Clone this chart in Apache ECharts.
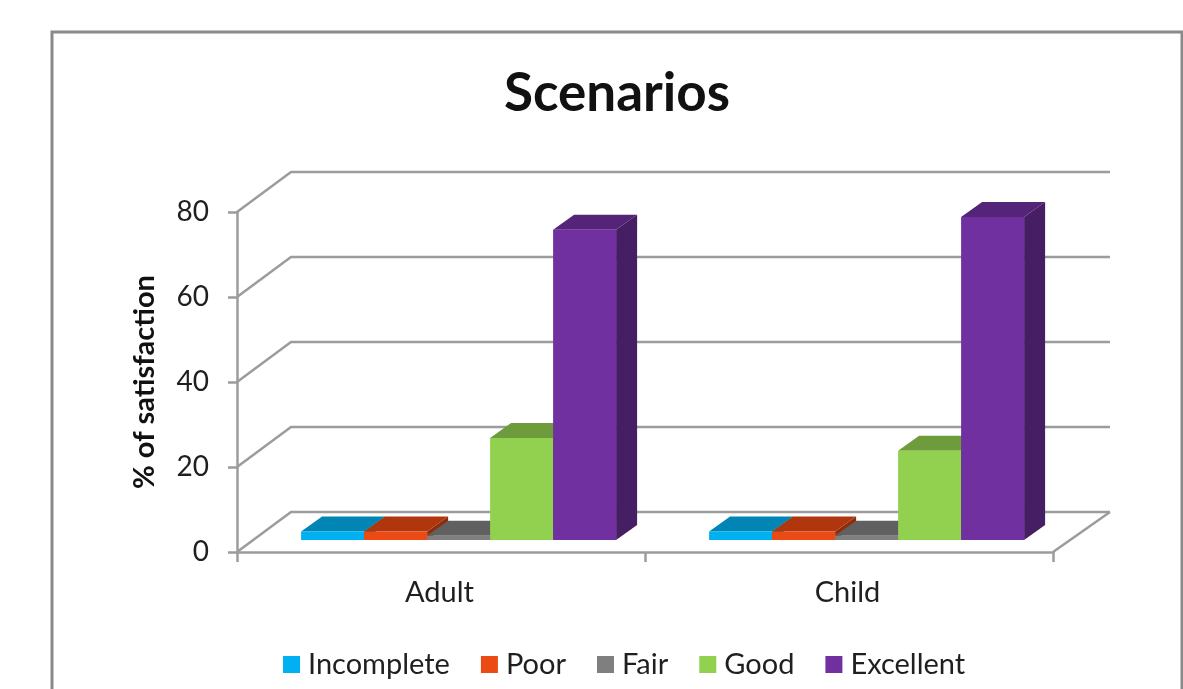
<!DOCTYPE html>
<html>
<head>
<meta charset="utf-8">
<title>Scenarios</title>
<style>
  html, body { margin: 0; padding: 0; background: #fff; overflow: hidden; }
  #chart { width: 1183px; height: 689px; }
</style>
</head>
<body>
<div id="chart"></div>
<script src="https://cdn.jsdelivr.net/npm/echarts@6/dist/echarts.min.js"></script>
<script>
const categories = ['Adult', 'Child']
const yTicks = [0, 20, 40, 60, 80]

const incomplete = [2, 2]
const poor = [2, 2]
const fair = [1, 1]
const good = [24, 21]
const excellent = [73, 76]

const gridColor = '#9c9c9c'
const textColor = '#1f1f1f'
const font = 'Lato, "Open Sans", sans-serif'

// depth of the fake 3D box, in pixels
const wallDx = 54
const wallDy = 40
const wallRight = 57
const barDx = 21
const barDy = 15
const barShiftX = 17.6
const barShiftY = 12
const barWidth = 63

const renderWall = (params, api) => {
  const box = params.coordSys
  const y = api.coord([0, api.value(1)])[1]
  const style = { stroke: gridColor, lineWidth: 2.5, fill: null }
  const children = [{
    type: 'polyline',
    shape: { points: [[box.x, y], [box.x + wallDx, y - wallDy], [box.x + box.width + wallRight, y - wallDy]] },
    style
  }]
  // floor edge on the right
  if (api.value(1) === 0) {
    children.push({
      type: 'line',
      shape: { x1: box.x + box.width, y1: y, x2: box.x + box.width + wallRight, y2: y - wallDy },
      style
    })
  }
  return { type: 'group', children }
}

const makeBar = (index, front, top, side) => (params, api) => {
  const base = api.coord([api.value(0), 0])
  const head = api.coord([api.value(0), api.value(1)])
  const x0 = base[0] + barShiftX + (index - 2.5) * barWidth
  const x1 = x0 + barWidth
  const y0 = base[1] - barShiftY
  const y1 = head[1] - barShiftY
  return {
    type: 'group',
    children: [
      {
        type: 'polygon',
        shape: { points: [[x1, y1], [x1 + barDx, y1 - barDy], [x1 + barDx, y0 - barDy], [x1, y0]] },
        style: { fill: side }
      },
      {
        type: 'polygon',
        shape: { points: [[x0, y1], [x0 + barDx, y1 - barDy], [x1 + barDx, y1 - barDy], [x1, y1]] },
        style: { fill: top }
      },
      {
        type: 'rect',
        shape: { x: x0, y: y1, width: barWidth, height: y0 - y1 },
        style: { fill: front }
      }
    ]
  }
}

const barSeries = (name, values, index, front, top, side) => ({
  name,
  type: 'custom',
  coordinateSystem: 'cartesian2d',
  renderItem: makeBar(index, front, top, side),
  itemStyle: { color: front },
  encode: { x: 0, y: 1 },
  data: values.map((v, i) => [i, v]),
  z: 3
})

const chart = echarts.init(document.getElementById('chart'))

chart.setOption({
  backgroundColor: '#fff',
  animation: false,
  textStyle: { fontFamily: font },
  title: {
    text: 'Scenarios',
    left: 612,
    top: 62,
    textAlign: 'center',
    textStyle: { fontFamily: font, fontSize: 53, fontWeight: 'bold', color: '#111' }
  },
  graphic: [{
    type: 'rect',
    silent: true,
    z: -1,
    shape: { x: 52, y: 32, width: 1130, height: 720 },
    style: { fill: null, stroke: '#8a8a8a', lineWidth: 3 }
  }],
  legend: {
    data: ['Incomplete', 'Poor', 'Fair', 'Good', 'Excellent'],
    left: 278,
    top: 645,
    icon: 'rect',
    itemWidth: 17,
    itemHeight: 17,
    itemGap: 31,
    textStyle: { fontFamily: font, fontSize: 29, color: textColor, padding: [0, 0, 0, 3] }
  },
  grid: { left: 237, right: 130, top: 212, bottom: 137 },
  xAxis: {
    type: 'category',
    data: categories,
    axisLine: { lineStyle: { color: gridColor, width: 2.5 } },
    axisTick: { show: true, alignWithLabel: false, length: 10, lineStyle: { color: gridColor, width: 2.5 } },
    axisLabel: { color: textColor, fontSize: 29, margin: 26, padding: [0, 3, 0, 0] },
    splitLine: { show: false }
  },
  yAxis: {
    type: 'value',
    min: 0,
    max: 80,
    interval: 20,
    name: '% of satisfaction',
    nameLocation: 'middle',
    nameRotate: 90,
    nameGap: 78,
    nameTextStyle: { color: '#111', fontSize: 29, fontWeight: 'bold', fontFamily: font },
    axisLine: { show: true, lineStyle: { color: gridColor, width: 2.5 } },
    axisTick: { show: true, length: 9, lineStyle: { color: gridColor, width: 2.5 } },
    axisLabel: { color: textColor, fontSize: 28, margin: 28, verticalAlign: 'middle', padding: [8, 0, 0, 0] },
    splitLine: { show: false }
  },
  series: [
    {
      type: 'custom',
      coordinateSystem: 'cartesian2d',
      renderItem: renderWall,
      silent: true,
      encode: { x: 0, y: 1 },
      data: yTicks.map(v => [0, v]),
      z: 1
    },
    barSeries('Incomplete', incomplete, 0, '#00b0f0', '#0085b5', '#006a90'),
    barSeries('Poor', poor, 1, '#eb4a15', '#b0360e', '#8f2c0b'),
    barSeries('Fair', fair, 2, '#7f7f7f', '#606060', '#505050'),
    barSeries('Good', good, 3, '#92d050', '#6e9c3c', '#5a8030'),
    barSeries('Excellent', excellent, 4, '#7030a0', '#542478', '#461e64')
  ]
})
</script>
</body>
</html>
